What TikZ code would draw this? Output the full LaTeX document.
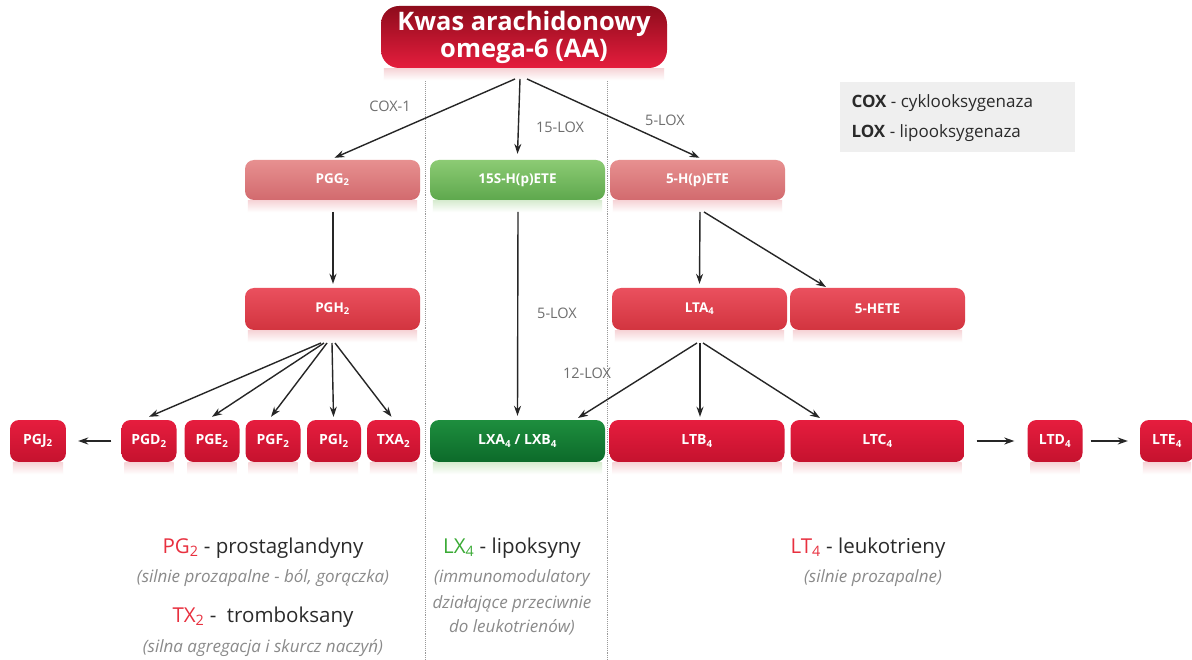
\documentclass[tikz,border=0pt]{standalone}
\usepackage{fontspec}
\setmainfont{Open Sans}
\usetikzlibrary{arrows.meta}
\definecolor{topA}{HTML}{8E0C1C}
\definecolor{topB}{HTML}{E51D3D}
\definecolor{paleA}{HTML}{E79090}
\definecolor{paleB}{HTML}{D26A6E}
\definecolor{pgA}{HTML}{8CCB74}
\definecolor{pgB}{HTML}{5EA84D}
\definecolor{midA}{HTML}{EA505E}
\definecolor{midB}{HTML}{D2343F}
\definecolor{redA}{HTML}{E61D3E}
\definecolor{redB}{HTML}{C5122E}
\definecolor{dgA}{HTML}{1E8E3E}
\definecolor{dgB}{HTML}{0C6A2A}
\definecolor{reflR}{HTML}{F6D3D6}
\definecolor{reflG}{HTML}{D6EBCF}
\definecolor{enzgray}{HTML}{6E6E6E}
\definecolor{capgray}{HTML}{8A8A8A}
\definecolor{ink}{HTML}{2A2A2A}
\definecolor{legred}{HTML}{E8303F}
\definecolor{leggreen}{HTML}{3AAA35}
\definecolor{legbg}{HTML}{EFEFEF}
\tikzset{
  box/.style={rounded corners=9pt, inner sep=0pt, text=white,
    font=\fontsize{13.5}{15}\selectfont\bfseries, shading=axis},
  paleR/.style={box, top color=paleA, bottom color=paleB, minimum height=40pt},
  paleG/.style={box, top color=pgA, bottom color=pgB, minimum height=40pt},
  midR/.style={box, top color=midA, bottom color=midB, minimum height=42pt},
  redbox/.style={box, top color=redA, bottom color=redB, minimum height=42pt,
    font=\fontsize{14}{15}\selectfont\bfseries},
  dgbox/.style={box, top color=dgA, bottom color=dgB, minimum height=42pt,
    font=\fontsize{14}{15}\selectfont\bfseries},
  arr/.style={-{Stealth[length=10pt,width=7pt]}, line width=1.4pt, black!85},
  enz/.style={text=enzgray, font=\fontsize{14.5}{16}\selectfont},
  head/.style={text=ink, font=\fontsize{20.5}{22}\selectfont},
  capt/.style={text=capgray, font=\fontsize{17}{18}\selectfont\itshape, align=center},
  sep/.style={densely dotted, line width=0.9pt, black!40},
}
\newcommand\mirror[2]{\shade[top color=#2, bottom color=white]
  ([xshift=3pt]#1.south west) rectangle ([xshift=-3pt,yshift=-12pt]#1.south east);}
\begin{document}
\begin{tikzpicture}[x=1pt,y=-1pt]
\useasboundingbox (0,0) rectangle (1192,660);
\fill[white] (0,0) rectangle (1192,660);

% separators
\draw[sep] (425,72) -- (425,660);
\draw[sep] (607,72) -- (607,660);

% top node
\node[box, top color=topA, bottom color=topB, rounded corners=18pt,
  minimum width=286pt, minimum height=62pt, align=center,
  font=\fontsize{25.5}{27}\selectfont\bfseries] (aa) at (524,37)
  {Kwas arachidonowy\\omega-6 (AA)};
\mirror{aa}{reflR}

% row 1
\node[paleR, minimum width=175pt] (pgg) at (332.5,180) {PGG\textsubscript{2}};
\node[paleG, minimum width=175pt] (s15) at (517.5,180) {15S-H(p)ETE};
\node[paleR, minimum width=175pt] (h5) at (697.5,180) {5-H(p)ETE};
\mirror{pgg}{reflR}\mirror{s15}{reflG}\mirror{h5}{reflR}

% row 2
\node[midR, minimum width=175pt] (pgh) at (332.5,309) {PGH\textsubscript{2}};
\node[midR, minimum width=175pt] (lta) at (699.5,309) {LTA\textsubscript{4}};
\node[midR, minimum width=175pt] (hete) at (877.5,309) {5-HETE};
\mirror{pgh}{reflR}\mirror{lta}{reflR}\mirror{hete}{reflR}

% row 3
\node[redbox, minimum width=56pt] (pgj) at (38,441) {PGJ\textsubscript{2}};
\node[redbox, minimum width=55pt] (pgd) at (149,441) {PGD\textsubscript{2}};
\node[redbox, minimum width=55pt] (pge) at (212,441) {PGE\textsubscript{2}};
\node[redbox, minimum width=55pt] (pgf) at (273,441) {PGF\textsubscript{2}};
\node[redbox, minimum width=54pt] (pgi) at (334,441) {PGI\textsubscript{2}};
\node[redbox, minimum width=53pt] (txa) at (393.5,441) {TXA\textsubscript{2}};
\node[dgbox, minimum width=175pt] (lx) at (517.5,441) {LXA\textsubscript{4} / LXB\textsubscript{4}};
\node[redbox, minimum width=175pt] (ltb) at (697,441) {LTB\textsubscript{4}};
\node[redbox, minimum width=174pt] (ltc) at (877.5,441) {LTC\textsubscript{4}};
\node[redbox, minimum width=55pt] (ltd) at (1055,441) {LTD\textsubscript{4}};
\node[redbox, minimum width=54pt] (lte) at (1167,441) {LTE\textsubscript{4}};
\foreach \n in {pgj,pgd,pge,pgf,pgi,txa,ltb,ltc,ltd,lte}{\mirror{\n}{reflR}}
\mirror{lx}{reflG}

% connector end points
\coordinate (aaL) at (515,79);
\coordinate (aaM) at (520,79);
\coordinate (aaR) at (527,79);
\coordinate (pggOut) at (333,212);
\coordinate (s15Out) at (518,212);
\coordinate (h5Out) at (700,212);
\coordinate (pghOut) at (327,343);
\coordinate (ltaOut) at (700,343);
\coordinate (lxIn) at (578,418);
\coordinate (heteIn) at (826,287);
\coordinate (ltcIn) at (820,418);

% arrows from AA
\draw[arr] (aaL) -- ([xshift=2pt,yshift=2pt]pgg.north);
\draw[arr] (aaM) -- ([yshift=6pt]s15.north);
\draw[arr] (aaR) -- ([xshift=2pt,yshift=2pt]h5.north);

% row 1 -> row 2
\draw[arr] (pggOut) -- ([xshift=0.5pt,yshift=4pt]pgh.north);
\draw[arr] (h5Out) -- ([yshift=4pt]lta.north);
\draw[arr] ([xshift=4pt]h5Out) -- (heteIn);
\draw[arr] (s15Out) -- ([yshift=4pt]lx.north);

% PGH2 fan
\draw[arr] ([xshift=-6pt]pghOut) -- ([yshift=3pt]pgd.north);
\draw[arr] ([xshift=-3pt]pghOut) -- ([yshift=3pt]pge.north);
\draw[arr] (pghOut) -- ([xshift=-2pt,yshift=3pt]pgf.north);
\draw[arr] ([xshift=5pt]pghOut) -- ([xshift=-0.5pt,yshift=3pt]pgi.north);
\draw[arr] ([xshift=8pt]pghOut) -- ([xshift=-2pt,yshift=3pt]txa.north);

% LTA4 fan
\draw[arr] ([xshift=-3pt]ltaOut) -- (lxIn);
\draw[arr] (ltaOut) -- ([xshift=3pt,yshift=3pt]ltb.north);
\draw[arr] ([xshift=3pt]ltaOut) -- (ltcIn);

% horizontal arrows
\draw[arr] ([xshift=-10pt]pgd.west) -- ([xshift=12pt]pgj.east);
\draw[arr] ([xshift=12pt]ltc.east) -- ([xshift=-13pt]ltd.west);
\draw[arr] ([xshift=8pt]ltd.east) -- ([xshift=-12pt]lte.west);

% enzyme labels
\node[enz] (lcox) at (390,106) {COX-1};
\node[enz] (l15) at (560,127) {15-LOX};
\node[enz] (l5a) at (665,120) {5-LOX};
\node[enz] (l5b) at (557,313) {5-LOX};
\node[enz] (l12) at (587,373) {12-LOX};

% legend
\fill[legbg] (840,82) rectangle (1075,152);
\node[anchor=west, text=ink, font=\fontsize{17}{19}\selectfont] (lg1) at (848,103)
  {\textbf{COX} - cyklooksygenaza};
\node[anchor=west, text=ink, font=\fontsize{17}{19}\selectfont] (lg2) at (848,133)
  {\textbf{LOX} - lipooksygenaza};

% bottom descriptions
\node[head] (pgt) at (263,548) {\textcolor{legred}{PG\textsubscript{2}} - prostaglandyny};
\node[capt] (pgc) at (263,578) {(silnie prozapalne - ból, gorączka)};
\node[head] (txt) at (263,617) {\textcolor{legred}{TX\textsubscript{2}} -\ \ tromboksany};
\node[capt] (txc) at (263,648) {(silna agregacja i skurcz naczyń)};

\node[head] (lxt) at (512,548) {\textcolor{leggreen}{LX\textsubscript{4}} - lipoksyny};
\node[capt] (lxc1) at (512,578) {(immunomodulatory};
\node[capt] (lxc2) at (512,604) {działające przeciwnie};
\node[capt] (lxc3) at (512,627) {do leukotrienów)};

\node[head] (ltt) at (868,548) {\textcolor{legred}{LT\textsubscript{4}} - leukotrieny};
\node[capt] (ltcap) at (873,578) {(silnie prozapalne)};
\end{tikzpicture}
\end{document}
